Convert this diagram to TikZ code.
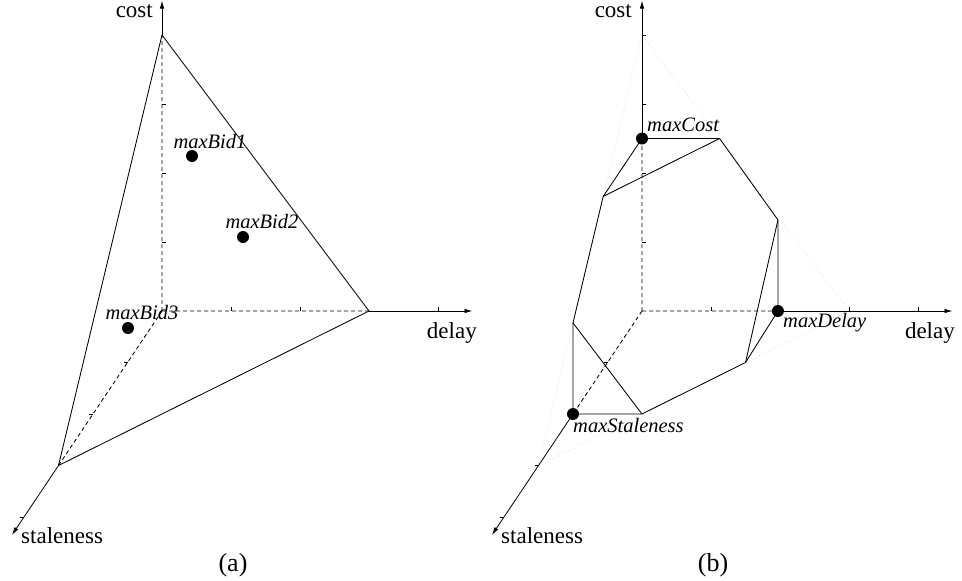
\documentclass[tikz,border=0pt]{standalone}
\usepackage{fontspec}
\setmainfont{Liberation Serif}
\usetikzlibrary{arrows.meta}
\begin{document}
\begin{tikzpicture}[x={(69pt,0pt)},y={(0pt,69pt)},z={(-34.5pt,-51.5pt)},
  axarrow/.style={line width=0.8pt,-{Latex[length=8pt,width=4.5pt]}},
  hid/.style={line width=0.85pt,dash pattern=on 4pt off 3pt},
  solidedge/.style={line width=0.85pt,line join=round},
  faint/.style={gray!30,dotted,line width=0.6pt},
  bullet/.style={circle,fill=black,inner sep=0pt,minimum size=12pt},
  axlab/.style={font=\fontsize{23}{23}\selectfont,inner sep=0pt},
  caplab/.style={font=\fontsize{26}{26}\selectfont,inner sep=0pt},
  ptlab/.style={font=\fontsize{20.5}{20.5}\selectfont\itshape,inner sep=0pt},
  tk/.style={line width=0.7pt}]
\useasboundingbox (0pt,0pt) rectangle (962pt,-581pt);

% ---------------- panel (a)
\begin{scope}[shift={(162pt,-311pt)}]
  \coordinate (aO) at (0,0,0);
  \coordinate (aC) at (0,4,0);
  \coordinate (aD) at (3,0,0);
  \coordinate (aS) at (0,0,3);
  \coordinate (aCe) at (0,4.5,0);
  \coordinate (aDe) at (4.5,0,0);
  \coordinate (aSe) at (0,0,4.35);
  \draw[hid] (aO)--(aC) (aO)--(aD) (aO)--(aS);
  \draw[axarrow] (aC)--(aCe);
  \draw[axarrow] (aD)--(aDe);
  \draw[axarrow] (aS)--(aSe);
  \draw[solidedge] (aC)--(aD)--(aS)--cycle;
  \foreach \i in {1,2,3} \draw[tk] (0,\i,0) -- ++(4pt,0pt);
  \foreach \i in {1,2,4} \draw[tk] (\i,0,0) -- ++(0pt,4pt);
  \foreach \i in {1,2,4} \draw[tk] (0,0,\i) -- ++(-4pt,0pt);
\end{scope}
\node[bullet] (bid1) at (192pt,-156pt) {};
\node[bullet] (bid2) at (243pt,-237pt) {};
\node[bullet] (bid3) at (128pt,-328pt) {};
\node[ptlab,anchor=base] (lbid1) at (210pt,-148pt) {maxBid1};
\node[ptlab,anchor=base] (lbid2) at (262pt,-228pt) {maxBid2};
\node[ptlab,anchor=base] (lbid3) at (142pt,-319pt) {maxBid3};
\node[axlab,anchor=base east] (acost) at (153pt,-17pt) {cost};
\node[axlab,anchor=base east] (adelay) at (477pt,-338pt) {delay};
\node[axlab,anchor=base west] (astale) at (21pt,-543pt) {staleness};
\node[caplab,anchor=base] (acap) at (233pt,-571pt) {(a)};

% ---------------- panel (b)
\begin{scope}[shift={(642pt,-311pt)}]
  \coordinate (bO) at (0,0,0);
  \coordinate (bC) at (0,4,0);
  \coordinate (bD) at (3,0,0);
  \coordinate (bS) at (0,0,3);
  \coordinate (bCe) at (0,4.5,0);
  \coordinate (bDe) at (4.5,0,0);
  \coordinate (bSe) at (0,0,4.35);
  \draw[faint] (bC)--(bD)--(bS)--cycle;
  \coordinate (bMc) at (0,2.5,0);
  \coordinate (bMd) at (1.97,0,0);
  \coordinate (bMs) at (0,0,2);
  \coordinate (bA) at (1.125,2.5,0);
  \coordinate (bB) at (1.97,1.32,0);
  \coordinate (bE) at (2,0,1);
  \coordinate (bF) at (1,0,2);
  \coordinate (bG) at (0,1.32,2);
  \coordinate (bH) at (0,2.5,1.125);
  \draw[hid] (bO)--(bMc) (bO)--(bMd) (bO)--(bMs);
  \draw[axarrow] (bMc)--(bCe);
  \draw[axarrow] (bMd)--(bDe);
  \draw[axarrow] (bMs)--(bSe);
  \foreach \i in {1,2,3,4} \draw[tk] (0,\i,0) -- ++(4pt,0pt);
  \foreach \i in {1,2,3,4} \draw[tk] (\i,0,0) -- ++(0pt,4pt);
  \foreach \i in {1,3,4} \draw[tk] (0,0,\i) -- ++(-4pt,0pt);
  \draw[solidedge] (bMc)--(bA)--(bB)--(bMd)--(bE)--(bF)--(bMs)--(bG)--(bH)--cycle;
  \draw[solidedge] (bH)--(bA) (bB)--(bE) (bF)--(bG);
  \node[bullet] (maxcost) at (bMc) {};
  \node[bullet] (maxdelay) at (bMd) {};
  \node[bullet] (maxstale) at (bMs) {};
\end{scope}
\node[ptlab,anchor=base west] (lmaxcost) at (647pt,-131pt) {maxCost};
\node[ptlab,anchor=base west] (lmaxdelay) at (783pt,-327pt) {maxDelay};
\node[ptlab,anchor=base west] (lmaxstale) at (573pt,-432pt) {maxStaleness};
\node[axlab,anchor=base east] (bcost) at (632pt,-17pt) {cost};
\node[axlab,anchor=base east] (bdelay) at (955pt,-338pt) {delay};
\node[axlab,anchor=base west] (bstale) at (501pt,-543pt) {staleness};
\node[caplab,anchor=base] (bcap) at (713pt,-571pt) {(b)};
\end{tikzpicture}
\end{document}
